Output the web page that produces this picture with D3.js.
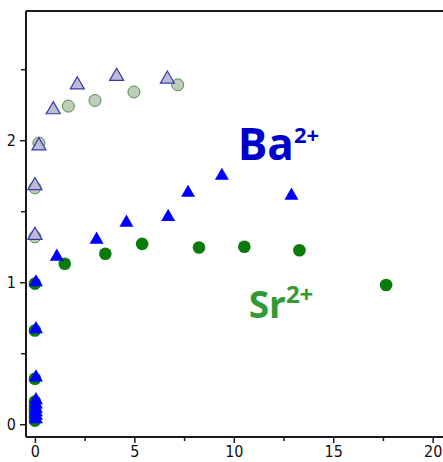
<!DOCTYPE html>
<html>
<head>
<meta charset="utf-8">
<script src="https://cdn.jsdelivr.net/npm/d3@7"></script>
<style>
  html, body { margin: 0; padding: 0; background: #fff; }
  svg { display: block; }
  .tick text { font-family: "DejaVu Sans Condensed", "DejaVu Sans", sans-serif; font-stretch: condensed; font-size: 16px; fill: #111; }
</style>
</head>
<body>
<svg id="chart" width="443" height="462"></svg>
<script>
// ---- Data ----
// Ba2+ (blue triangles, main series)
const baX = [0.05, 0.05, 0.05, 0.05, 0.05, 0.05, 0.05, 0.05, 0.05, 1.1, 3.1, 4.6, 6.7, 7.7, 9.4, 12.9];
const baY = [0.035, 0.06, 0.085, 0.11, 0.14, 0.17, 0.33, 0.67, 1.0, 1.18, 1.30, 1.42, 1.46, 1.63, 1.75, 1.61];
// Sr2+ (green circles, main series)
const srX = [0, 0, 0, 0, 0, 0, 0, 0, 0, 1.5, 3.54, 5.39, 8.25, 10.53, 13.3, 17.66];
const srY = [0.025, 0.05, 0.075, 0.10, 0.13, 0.16, 0.32, 0.66, 0.99, 1.13, 1.20, 1.27, 1.245, 1.25, 1.225, 0.98];
// Ba2+ (faded series)
const baFadeX = [0.0, 0.0, 0.2, 0.92, 2.13, 4.11, 6.66];
const baFadeY = [1.33, 1.68, 1.96, 2.215, 2.39, 2.45, 2.43];
// Sr2+ (faded series)
const srFadeX = [0.0, 0.0, 0.2, 1.68, 3.02, 4.98, 7.18];
const srFadeY = [1.32, 1.665, 1.98, 2.24, 2.28, 2.34, 2.39];
// Ticks
const xMajorTicks = [0, 5, 10, 15, 20];
const xMinorTicks = [2.5, 7.5, 12.5, 17.5];
const yMajorTicks = [0, 1, 2];
const yMinorTicks = [0.5, 1.5, 2.5];
// Labels
const labels = [
  { main: "Ba", sup: "2+", x: 10.2, y: 1.86, color: "#0000cc", size: 44, supSize: 22 },
  { main: "Sr", sup: "2+", x: 10.75, y: 0.75, color: "#339933", size: 37, supSize: 24 }
];

// ---- Chart ----
const svg = d3.select("#chart");
const mLeft = 26, mRight = 443, mTop = 11, mBottom = 437;
const x = d3.scaleLinear().domain([-0.45, 20.52]).range([mLeft, mRight]);
const y = d3.scaleLinear().domain([-0.09, 2.91]).range([mBottom, mTop]);

const axisColor = "#1a1a1a";

// Frame top line
svg.append("line")
  .attr("x1", mLeft).attr("x2", mRight).attr("y1", mTop).attr("y2", mTop)
  .attr("stroke", axisColor).attr("stroke-width", 2);

// X axis
const gx = svg.append("g").attr("transform", `translate(0,${mBottom})`);
gx.call(d3.axisBottom(x).tickValues(xMajorTicks).tickSize(6).tickPadding(3).tickFormat(d3.format("d")));
const gxm = svg.append("g").attr("transform", `translate(0,${mBottom})`);
gxm.call(d3.axisBottom(x).tickValues(xMinorTicks).tickSize(4).tickFormat(""));
[gx, gxm].forEach(g => {
  g.select(".domain").attr("stroke", axisColor).attr("stroke-width", 2)
    .attr("d", `M${mLeft},0H${mRight}`);
  g.selectAll(".tick line").attr("stroke", axisColor).attr("stroke-width", 1.5);
});
gxm.select(".domain").remove();

// Y axis
const gy = svg.append("g").attr("transform", `translate(${mLeft},0)`);
gy.call(d3.axisLeft(y).tickValues(yMajorTicks).tickSize(6).tickPadding(4).tickFormat(d3.format("d")));
const gym = svg.append("g").attr("transform", `translate(${mLeft},0)`);
gym.call(d3.axisLeft(y).tickValues(yMinorTicks).tickSize(5).tickFormat(""));
[gy, gym].forEach(g => {
  g.select(".domain").attr("stroke", axisColor).attr("stroke-width", 2)
    .attr("d", `M0,${mTop}V${mBottom}`);
  g.selectAll(".tick line").attr("stroke", axisColor).attr("stroke-width", 1.5);
});
gym.select(".domain").remove();

const tri = d3.symbol().type(d3.symbolTriangle).size(85);

// Faded series
svg.append("g").selectAll("circle")
  .data(srFadeX.map((v, i) => [v, srFadeY[i]]))
  .join("circle")
  .attr("cx", d => x(d[0])).attr("cy", d => y(d[1])).attr("r", 6)
  .attr("fill", "#bfcdb9").attr("stroke", "#4f8f4f").attr("stroke-width", 1);

svg.append("g").selectAll("path")
  .data(baFadeX.map((v, i) => [v, baFadeY[i]]))
  .join("path")
  .attr("d", tri)
  .attr("transform", d => `translate(${x(d[0])},${y(d[1])})`)
  .attr("fill", "#bcbcd8").attr("stroke", "#3a3aa8").attr("stroke-width", 1.2);

// Main series
svg.append("g").selectAll("circle")
  .data(srX.map((v, i) => [v, srY[i]]))
  .join("circle")
  .attr("cx", d => x(d[0])).attr("cy", d => y(d[1])).attr("r", 6.3)
  .attr("fill", "#0a7a0a");

svg.append("g").selectAll("path")
  .data(baX.map((v, i) => [v, baY[i]]))
  .join("path")
  .attr("d", tri)
  .attr("transform", d => `translate(${x(d[0])},${y(d[1])})`)
  .attr("fill", "#0000ff");

// Labels
labels.forEach(l => {
  const t = svg.append("text")
    .attr("x", x(l.x)).attr("y", y(l.y))
    .attr("fill", l.color)
    .style("font-family", "'Open Sans', sans-serif")
    .style("font-weight", "bold")
    .style("font-size", l.size + "px");
  t.append("tspan").text(l.main);
  t.append("tspan").text(l.sup)
    .style("font-size", l.supSize + "px")
    .attr("dy", -l.size * 0.4);
});
</script>
</body>
</html>
